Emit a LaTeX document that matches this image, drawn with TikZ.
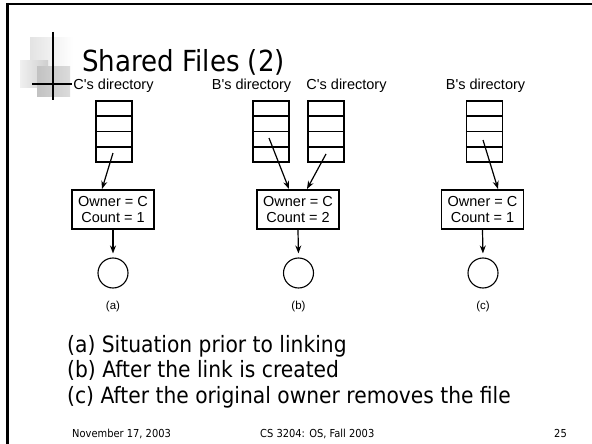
\documentclass[tikz,border=0pt]{standalone}
\usepackage{fontspec}
\setmainfont{DejaVu Sans}[FakeStretch=0.9]
\newfontfamily\figfont{Liberation Sans}
\usetikzlibrary{calc,arrows.meta}

\tikzset{
  dirstack/.style={draw, line width=1.2pt, minimum width=36pt, minimum height=61pt, inner sep=0pt},
  inode/.style={draw, line width=1.2pt, minimum width=82pt, minimum height=39pt, inner sep=0pt,
    align=center, font=\figfont\fontsize{14.5}{16}\selectfont},
  filecirc/.style={draw, circle, line width=1.1pt, minimum size=30pt, inner sep=0pt},
  ptr/.style={line width=1.2pt, -{Stealth[length=8pt,width=6pt]}},
  dirlabel/.style={font=\figfont\fontsize{14.5}{16}\selectfont, inner sep=1pt},
  caselabel/.style={font=\figfont\fontsize{11.5}{13}\selectfont, inner sep=0pt},
  bodytext/.style={anchor=base west, inner sep=0pt, font=\fontsize{22.5}{26}\selectfont},
  foottext/.style={anchor=base west, inner sep=0pt, font=\fontsize{11}{13}\selectfont},
}

% divide a directory block into four entries
\newcommand{\dirlines}[1]{%
  \foreach \f in {0.25,0.5,0.75}
    \draw[line width=1.2pt] ($(#1.north west)!\f!(#1.south west)$) -- ($(#1.north east)!\f!(#1.south east)$);}

\begin{document}
\begin{tikzpicture}[x=1pt, y=-1pt]
\useasboundingbox (0,0) rectangle (592,444);
\fill[white] (0,0) rectangle (592,444);

% slide frame
\draw[line width=1.5pt] (6,4) -- (592,4);
\draw[line width=3pt] (7.5,3) -- (7.5,444);

% title ornament
\shade[left color=gray!22, right color=white] (30,38) rectangle (73,70);
\shade[left color=gray!12, right color=gray!38] (20,61) rectangle (48,88);
\shade[left color=gray!48, right color=gray!28] (37,67) rectangle (70,97);
\draw[line width=1.3pt] (53,32) -- (53,100);
\draw[line width=1.3pt] (32,84) -- (73,84);

% title
\node[anchor=base west, inner sep=0pt, font=\fontsize{29}{34}\selectfont] (title) at (82,72) {Shared Files (2)};

% ---- (a) ----
\node[dirlabel, fill=white] (la) at (113.5,86) {C's directory};
\node[dirstack] (sa) at (114,131.5) {};
\dirlines{sa}
\node[inode] (ia) at (113,209.5) {Owner = C\\Count = 1};
\node[filecirc] (fa) at (113,273) {};
\node[caselabel] (ca) at (113,307) {(a)};
\coordinate (pa) at (113,153);
\coordinate (ea) at (102,189);
\draw[ptr] (pa) -- (ea);
\draw[ptr, shorten >=4pt] (ia.south) -- (fa.north);

% ---- (b) ----
\node[dirlabel] (lb1) at (251.5,86) {B's directory};
\node[dirlabel] (lb2) at (346.5,86) {C's directory};
\node[dirstack] (sb1) at (271,131.5) {};
\dirlines{sb1}
\node[dirstack] (sb2) at (326,131.5) {};
\dirlines{sb2}
\node[inode] (ib) at (298,209.5) {Owner = C\\Count = 2};
\node[filecirc] (fb) at (298.5,273) {};
\node[caselabel] (cb) at (298.5,307) {(b)};
\coordinate (pb1) at (269,138);
\coordinate (eb1) at (289,189);
\coordinate (pb2) at (326,154);
\coordinate (eb2) at (307,189);
\draw[ptr] (pb1) -- (eb1);
\draw[ptr] (pb2) -- (eb2);
\draw[ptr, shorten >=4pt] (ib.south) -- (fb.north);

% ---- (c) ----
\node[dirlabel] (lc) at (485.5,86) {B's directory};
\node[dirstack] (sc) at (484.5,131.5) {};
\dirlines{sc}
\node[inode] (ic) at (482.5,209.5) {Owner = C\\Count = 1};
\node[filecirc] (fc) at (483,273) {};
\node[caselabel] (cc) at (483,307) {(c)};
\coordinate (pc) at (483,140);
\coordinate (ec) at (498,189);
\draw[ptr] (pc) -- (ec);
\draw[ptr, shorten >=4pt] (ic.south) -- (fc.north);

% captions
\node[bodytext] (t1) at (67,352) {(a) Situation prior to linking};
\node[bodytext] (t2) at (67,377.5) {(b) After the link is created};
\node[bodytext] (t3) at (67,403) {(c) After the original owner removes the file};

% footer
\node[foottext] (f1) at (72,437) {November 17, 2003};
\node[foottext] (f2) at (260,437) {CS 3204: OS, Fall 2003};
\node[foottext, anchor=base east] (f3) at (567,437) {25};
\end{tikzpicture}
\end{document}
